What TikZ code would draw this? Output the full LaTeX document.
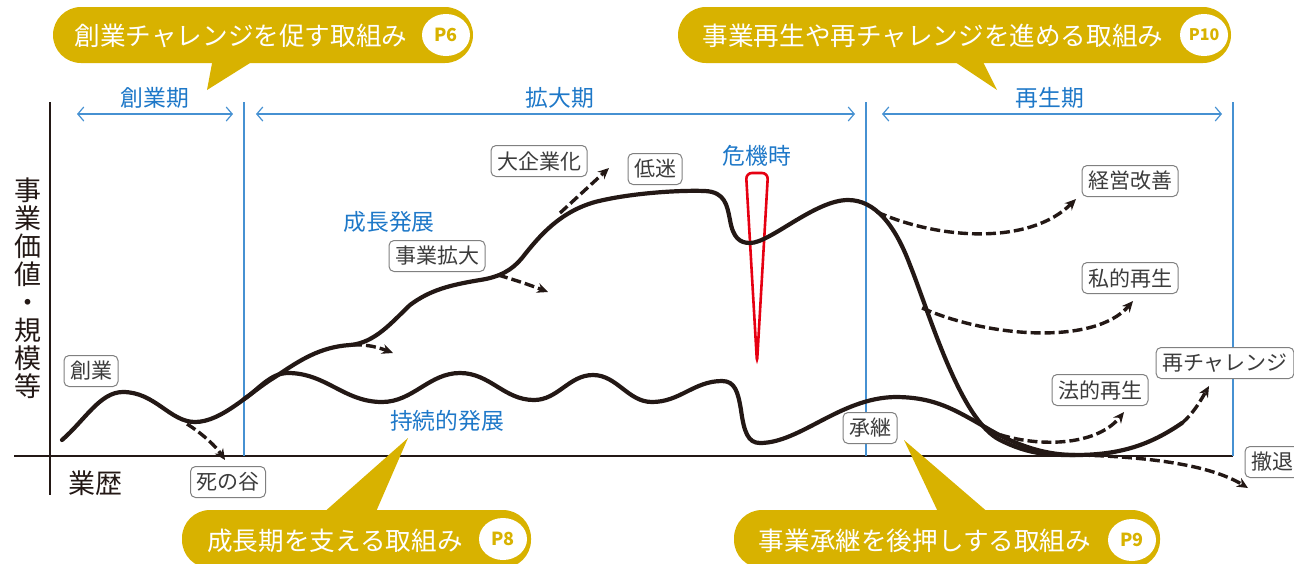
\documentclass[tikz,border=0pt]{standalone}
\usepackage{fontspec}
\setmainfont{Noto Sans CJK JP}
\usetikzlibrary{arrows.meta,shapes.geometric}
\definecolor{gold}{RGB}{216,178,0}
\definecolor{bl}{RGB}{30,120,200}
\definecolor{blline}{RGB}{70,145,210}
\definecolor{rd}{RGB}{230,0,18}
\definecolor{ink}{RGB}{35,24,21}
\definecolor{lbl}{RGB}{60,60,60}
\begin{document}
\begin{tikzpicture}[x=0.5pt,y=-0.5pt,
  tag/.style={draw=black!50, line width=0.5pt, rounded corners=2.5pt, fill=white, text=lbl,
    font=\fontsize{10.5}{10.5}\selectfont, inner xsep=3pt, inner ysep=0pt, minimum height=15.5pt},
  phase/.style={text=bl, font=\fontsize{11.4}{12}\selectfont, inner sep=0pt},
  bubtext/.style={text=white, font=\fontsize{12.8}{13}\selectfont, inner sep=0pt},
  pcirc/.style={ellipse, fill=white, minimum width=24pt, minimum height=21pt, inner sep=0pt,
    text=gold, font=\bfseries\fontsize{9}{9}\selectfont},
  curve/.style={line width=2.1pt, ink, line cap=round, line join=round},
  dasharrow/.style={line width=1.7pt, ink, dash pattern=on 5pt off 2pt,
    -{Stealth[length=5.5pt,width=5pt]}},
  period/.style={blline, line width=0.6pt,
    {Straight Barb[length=3pt,width=7pt]}-{Straight Barb[length=3pt,width=7pt]}},
  divider/.style={blline, line width=0.7pt},
  axis/.style={ink, line width=0.75pt}]
\useasboundingbox (0,0) rectangle (1294,563);

% ---- callout bubbles (top) ----
\fill[gold, rounded corners=14pt] (53,7) rectangle (473,63);
\fill[gold] (213,58) -- (207,90) -- (258,58) -- cycle;
\node[bubtext] (b1) at (241,36) {創業チャレンジを促す取組み};
\node[pcirc] (p6) at (446,35) {P6};

\fill[gold, rounded corners=14pt] (678,7) rectangle (1231,63);
\fill[gold] (949,58) -- (997,90) -- (981,58) -- cycle;
\node[bubtext] (b2) at (933,36) {事業再生や再チャレンジを進める取組み};
\node[pcirc, font=\bfseries\fontsize{8}{8}\selectfont] (p10) at (1204,35) {P10};

% ---- axes and dividers ----
\coordinate (yt) at (50,102); \coordinate (yb) at (50,495);
\coordinate (xl) at (14,456); \coordinate (xr) at (1233,456);
\draw[axis] (yt) -- (yb);
\draw[axis] (xl) -- (xr);
\coordinate (v1t) at (244,102); \coordinate (v1b) at (244,456);
\coordinate (v2t) at (866,102); \coordinate (v2b) at (866,456);
\coordinate (v3t) at (1233,102); \coordinate (v3b) at (1233,456);
\draw[divider] (v1t) -- (v1b);
\draw[divider] (v2t) -- (v2b);
\draw[divider] (v3t) -- (v3b);

% ---- periods ----
\coordinate (a1l) at (77,114); \coordinate (a1r) at (233,114);
\coordinate (a2l) at (256,114); \coordinate (a2r) at (855,114);
\coordinate (a3l) at (882,114); \coordinate (a3r) at (1222,114);
\draw[period] (a1l) -- (a1r);
\draw[period] (a2l) -- (a2r);
\draw[period] (a3l) -- (a3r);
\node[phase] (ph1) at (155,98) {創業期};
\node[phase] (ph2) at (560,98) {拡大期};
\node[phase] (ph3) at (1050,98) {再生期};

% ---- axis labels ----
\node[text=ink, font=\fontsize{13.5}{14}\selectfont, align=center, inner sep=0pt] (ylab) at (28,288)
  {事\\業\\価\\値\\・\\規\\模\\等};
\node[text=ink, font=\fontsize{13.5}{14}\selectfont, inner sep=0pt] (xlab) at (95,483) {業歴};

% ---- crisis marker ----
\draw[rd, line width=1.3pt, rounded corners=3pt] (746,173) -- (768,173) -- (757,363) -- cycle;
\node[phase] (crisis) at (757,156) {危機時};

% ---- main curve: founding, growth, crisis, decline, re-challenge ----
\draw[curve] (62,440) .. controls (85,420) and (100,392) .. (123,392)
  .. controls (155,392) and (170,422) .. (195,422)
  .. controls (222,422) and (250,392) .. (275,377)
  .. controls (300,360) and (320,347) .. (350,345)
  .. controls (375,343) and (392,322) .. (410,305)
  .. controls (430,290) and (450,285) .. (480,280)
  .. controls (500,277) and (512,270) .. (522,258)
  .. controls (540,235) and (560,212) .. (595,202)
  .. controls (630,193) and (680,190) .. (705,191)
  .. controls (725,192) and (727,205) .. (730,220)
  .. controls (733,238) and (740,243) .. (750,243)
  .. controls (770,243) and (815,200) .. (848,200)
  .. controls (875,200) and (895,225) .. (910,265)
  .. controls (930,315) and (960,420) .. (1000,440)
  .. controls (1030,455) and (1050,455) .. (1075,455)
  .. controls (1120,455) and (1150,445) .. (1182,423);

% ---- sustainable development wave ----
\draw[curve] (244,399) .. controls (258,390) and (270,373) .. (288,373)
  .. controls (326,373) and (344,402) .. (382,402)
  .. controls (413,402) and (429,373) .. (460,373)
  .. controls (490,373) and (504,400) .. (534,400)
  .. controls (558,400) and (569,375) .. (593,375)
  .. controls (617,375) and (628,402) .. (652,402)
  .. controls (680,402) and (694,381) .. (722,381)
  .. controls (735,381) and (738,392) .. (741,410)
  .. controls (744,432) and (748,443) .. (760,443)
  .. controls (800,443) and (840,398) .. (895,397)
  .. controls (935,397) and (955,410) .. (985,427)
  .. controls (1010,442) and (1040,455) .. (1075,455);

% ---- dashed branches ----
\coordinate (d1s) at (187,424); \coordinate (d1e) at (225,460);
\draw[dasharrow] (d1s) .. controls (200,432) and (215,445) .. (d1e);
\coordinate (d2s) at (352,345); \coordinate (d2e) at (393,353);
\draw[dasharrow] (d2s) .. controls (368,344) and (380,348) .. (d2e);
\coordinate (d3s) at (498,275); \coordinate (d3e) at (548,292);
\draw[dasharrow] (d3s) .. controls (515,280) and (530,285) .. (d3e);
\coordinate (d4s) at (560,213); \coordinate (d4e) at (609,168);
\draw[dasharrow] (d4s) -- (d4e);
\coordinate (d5s) at (877,212); \coordinate (d5e) at (1076,199);
\draw[dasharrow] (d5s) .. controls (940,240) and (1030,245) .. (d5e);
\coordinate (d6s) at (922,308); \coordinate (d6e) at (1133,301);
\draw[dasharrow] (d6s) .. controls (990,338) and (1095,345) .. (d6e);
\coordinate (d7s) at (987,430); \coordinate (d7e) at (1124,412);
\draw[dasharrow] (d7s) .. controls (1030,448) and (1095,448) .. (d7e);
\coordinate (d8s) at (1182,423); \coordinate (d8e) at (1209,386);
\draw[dasharrow] (d8s) .. controls (1193,414) and (1201,400) .. (d8e);
\coordinate (d9s) at (1080,455); \coordinate (d9e) at (1248,488);
\draw[dasharrow] (d9s) .. controls (1150,457) and (1210,465) .. (d9e);

% ---- tags ----
\node[tag] (t1) at (91,371) {創業};
\node[tag] (t2) at (228,482) {死の谷};
\node[tag] (t3) at (437,256) {事業拡大};
\node[tag] (t4) at (539,161) {大企業化};
\node[tag] (t5) at (655,169) {低迷};
\node[tag] (t6) at (1130,181) {経営改善};
\node[tag] (t7) at (1130,278) {私的再生};
\node[tag] (t8) at (1100,390) {法的再生};
\node[tag] (t9) at (1225,363) {再チャレンジ};
\node[tag] (t10) at (1272,462) {撤退};
\node[tag] (t11) at (870,428) {承継};

% ---- blue labels ----
\node[phase] (g1) at (389,222) {成長発展};
\node[phase] (g2) at (447,421) {持続的発展};

% ---- callout bubbles (bottom) ----
\fill[gold, rounded corners=14pt] (182,510) rectangle (531,568);
\fill[gold] (322,514) -- (408,438) -- (375,514) -- cycle;
\node[bubtext] (b3) at (335,541) {成長期を支える取組み};
\node[pcirc] (p8) at (503,539) {P8};

\fill[gold, rounded corners=14pt] (734,510) rectangle (1160,568);
\fill[gold] (939,514) -- (904,440) -- (990,514) -- cycle;
\node[bubtext] (b4) at (925,541) {事業承継を後押しする取組み};
\node[pcirc] (p9) at (1132,540) {P9};
\end{tikzpicture}
\end{document}
